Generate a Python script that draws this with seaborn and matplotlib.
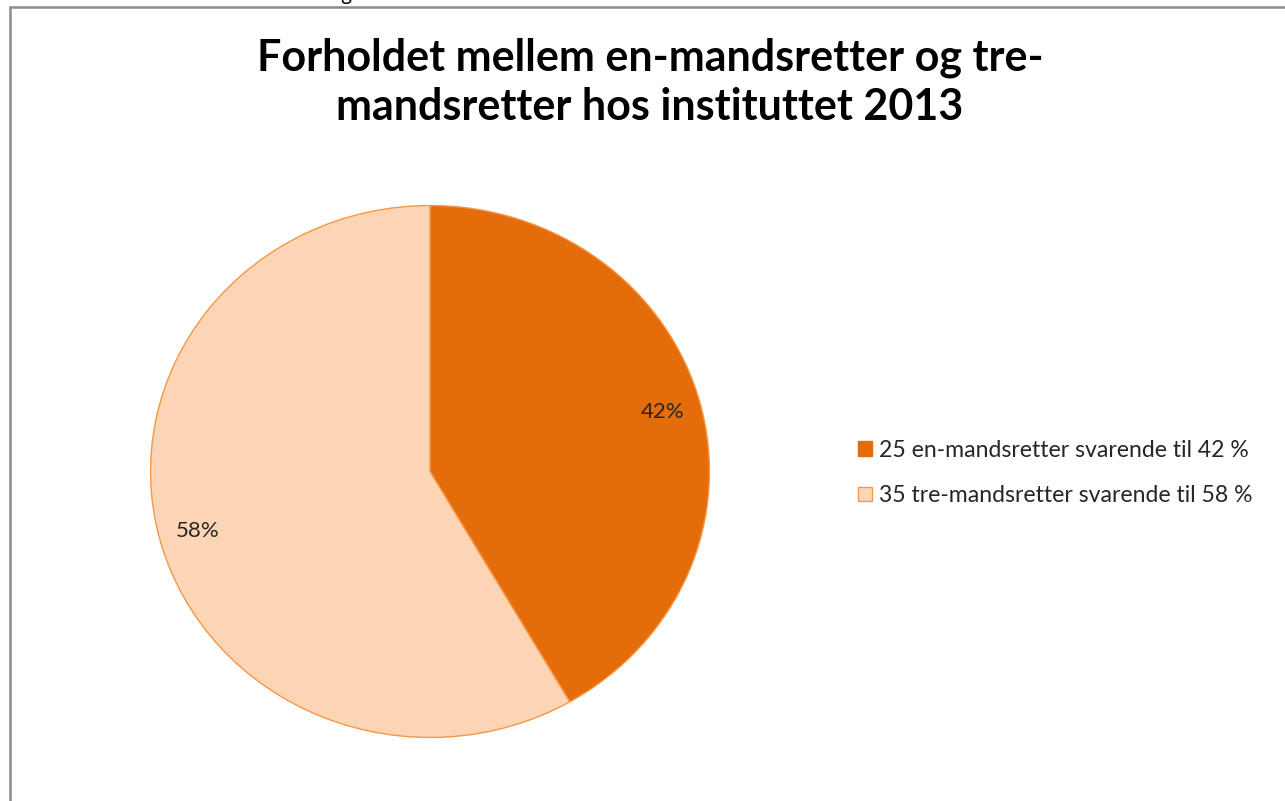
import matplotlib
matplotlib.use("Agg")
import matplotlib.pyplot as plt
from matplotlib.lines import Line2D
from matplotlib.patches import Patch
import seaborn as sns

sns.set_theme(style="white")
plt.rcParams['font.family'] = ['Lato', 'DejaVu Sans']

categories = ["25 en-mandsretter svarende til 42 %", "35 tre-mandsretter svarende til 58 %"]
values = [25, 35]
colors = ["#E46C0A", "#FCD5B5"]
title = "Forholdet mellem en-mandsretter og tre-\nmandsretter hos instituttet 2013"
caption = "Forholdet mellem en-mandsretter og tre-mandsretter hos instituttet 2013"

W, H = 1285, 801
fig = plt.figure(figsize=(W / 100, H / 100), dpi=100)
fig.patch.set_facecolor("white")

# clipped caption at very top (only its lowest strokes visible, as in the reference)
fig.text(14 / W, 1 - 0.2 / H, caption, fontsize=15, color="black", va="baseline", ha="left")

# border (top and left)
fig.add_artist(Line2D([9.5 / W, 1.0], [1 - 7 / H, 1 - 7 / H], transform=fig.transFigure, color="#8c8c8c", lw=1.8))
fig.add_artist(Line2D([9.5 / W, 9.5 / W], [0, 1 - 7 / H], transform=fig.transFigure, color="#8c8c8c", lw=1.8))

ax = fig.add_axes([150 / W, (H - 738) / H, 560 / W, 533 / H])
wedges, texts, autotexts = ax.pie(
    values, colors=colors, startangle=90, counterclock=False,
    autopct=lambda p: f"{p:.0f}%", pctdistance=0.86,
    wedgeprops=dict(edgecolor="#F79646", linewidth=1.0),
    textprops=dict(fontsize=16, color="#262626"), radius=1.0,
)
ax.set_aspect("auto")
ax.set_xlim(-1.002, 1.002)
ax.set_ylim(-1.002, 1.002)
ax.axis("off")

fig.text(650 / W, 1 - 82 / H, title, fontsize=31, fontweight="bold", ha="center", va="center",
         linespacing=1.27, color="black")

handles = [Patch(facecolor=colors[0], edgecolor=colors[0]),
           Patch(facecolor=colors[1], edgecolor="#F79646")]
fig.legend(handles, categories, loc="center left", bbox_to_anchor=(849 / W, 1 - 473 / H),
           frameon=False, fontsize=16.6, handlelength=0.6, handleheight=0.6,
           handletextpad=0.3, labelspacing=1.05, borderaxespad=0)

fig.savefig("out.png", dpi=100, facecolor="white")
